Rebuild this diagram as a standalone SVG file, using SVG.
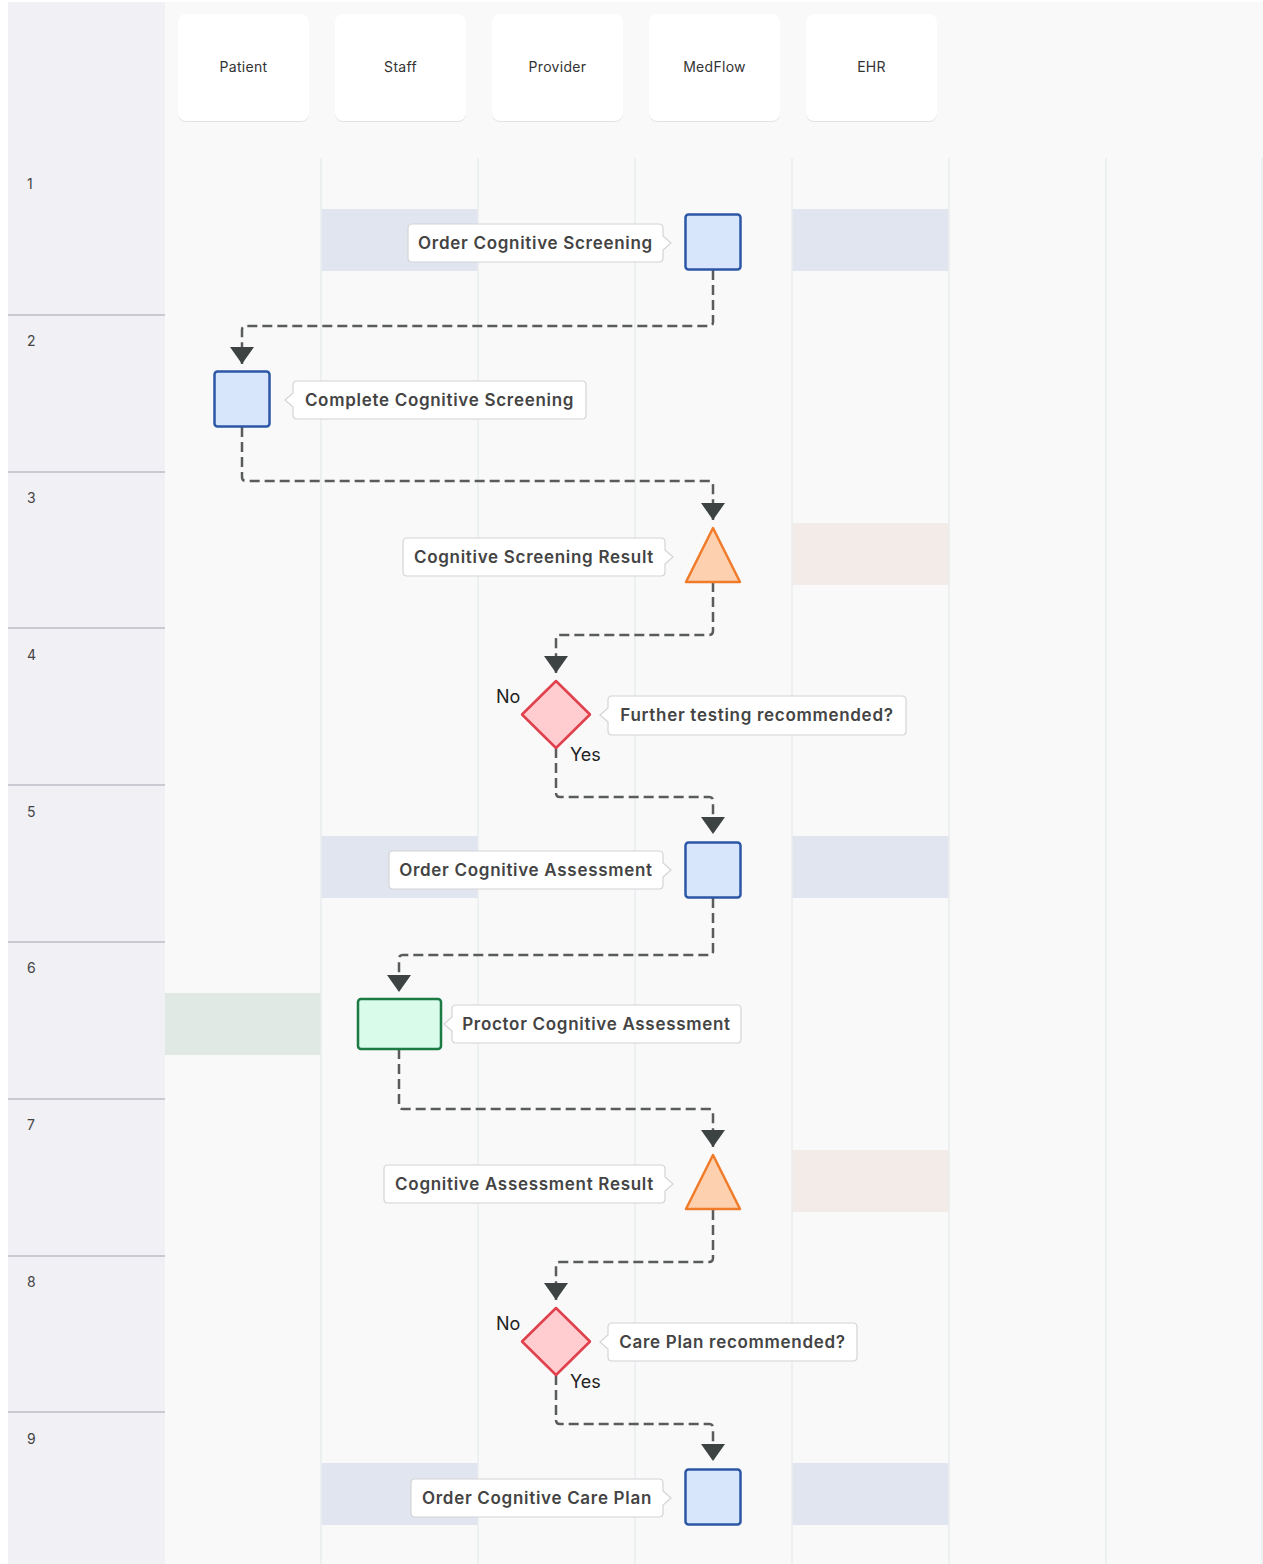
<svg xmlns="http://www.w3.org/2000/svg" width="1263" height="1564" viewBox="0 0 1263 1564">
<defs>
<style>
.hdr{fill:#fff}
.hdrs{fill:#e2e2e2}
.hdrt{font-family:Inter,"Noto Sans",sans-serif;font-size:14px;fill:#333;text-anchor:middle;letter-spacing:0.3px}
.rown{font-family:Inter,"Noto Sans",sans-serif;font-size:14px;fill:#444}
.rsep{stroke:#c9cad2;stroke-width:2}
.col{stroke:#e9ecec;stroke-width:1.5}
.bb{fill:#e1e5ef}
.bp{fill:#f3ebe7}
.bg{fill:#e0e9e4}
.lbl{fill:#fff;stroke:#d4d4d8;stroke-width:1.2}
.lt{font-family:Inter,"Noto Sans",sans-serif;font-size:17px;font-weight:600;fill:#444;text-anchor:middle;letter-spacing:0.7px}
.task{fill:#d8e6fc;stroke:#2c57a6;stroke-width:2.5}
.green{fill:#d9fbe9;stroke:#1c7a44;stroke-width:2.5}
.tri{fill:#fdd1b0;stroke:#f07b2a;stroke-width:2.5;stroke-linejoin:round}
.dia{fill:#ffccd0;stroke:#e0404b;stroke-width:2.5;stroke-linejoin:round}
.yn{font-family:Inter,"Noto Sans",sans-serif;font-size:18px;fill:#222}
.conn{fill:none;stroke:#5a5c5c;stroke-width:2.5;stroke-dasharray:10 5}
</style>
<marker id="arr" markerUnits="userSpaceOnUse" markerWidth="18" markerHeight="26" viewBox="0 0 18 26" refX="17" refY="13" orient="auto">
<path d="M0,1 L17,13 L0,25 Z" fill="#3d4343"/>
</marker>
</defs>

<g id="background">
<rect x="0" y="0" width="1263" height="1564" fill="#ffffff"/>
<rect x="8" y="2" width="1255" height="1562" fill="#f9f9f9"/>
<rect x="8" y="2" width="157" height="1562" fill="#f0f0f5"/>
</g>

<g id="bands">
<rect class="bb" x="321" y="209" width="157" height="62"/>
<rect class="bb" x="792" y="209" width="157" height="62"/>
<rect class="bp" x="792" y="523" width="157" height="62"/>
<rect class="bb" x="321" y="836" width="157" height="62"/>
<rect class="bb" x="792" y="836" width="157" height="62"/>
<rect class="bg" x="165" y="993" width="156" height="62"/>
<rect class="bp" x="792" y="1150" width="157" height="62"/>
<rect class="bb" x="321" y="1463" width="157" height="62"/>
<rect class="bb" x="792" y="1463" width="157" height="62"/>
</g>

<g id="grid">
<line class="col" x1="321" y1="158" x2="321" y2="1564"/>
<line class="col" x1="478" y1="158" x2="478" y2="1564"/>
<line class="col" x1="635" y1="158" x2="635" y2="1564"/>
<line class="col" x1="792" y1="158" x2="792" y2="1564"/>
<line class="col" x1="949" y1="158" x2="949" y2="1564"/>
<line class="col" x1="1106" y1="158" x2="1106" y2="1564"/>
<line class="col" x1="1262" y1="158" x2="1262" y2="1564"/>
<line class="rsep" x1="8" y1="315" x2="165" y2="315"/>
<line class="rsep" x1="8" y1="472" x2="165" y2="472"/>
<line class="rsep" x1="8" y1="628" x2="165" y2="628"/>
<line class="rsep" x1="8" y1="785" x2="165" y2="785"/>
<line class="rsep" x1="8" y1="942" x2="165" y2="942"/>
<line class="rsep" x1="8" y1="1099" x2="165" y2="1099"/>
<line class="rsep" x1="8" y1="1256" x2="165" y2="1256"/>
<line class="rsep" x1="8" y1="1412" x2="165" y2="1412"/>
</g>

<g id="row-labels">
<text class="rown" x="27" y="189">1</text>
<text class="rown" x="27" y="346">2</text>
<text class="rown" x="27" y="503">3</text>
<text class="rown" x="27" y="660">4</text>
<text class="rown" x="27" y="817">5</text>
<text class="rown" x="27" y="973">6</text>
<text class="rown" x="27" y="1130">7</text>
<text class="rown" x="27" y="1287">8</text>
<text class="rown" x="27" y="1444">9</text>
</g>

<g id="lane-patient">
<rect class="hdrs" x="178" y="15" width="131" height="107" rx="8"/>
<rect class="hdr" x="178" y="14" width="131" height="107" rx="8"/>
<text class="hdrt" x="243.5" y="72">Patient</text>
</g>
<g id="lane-staff">
<rect class="hdrs" x="335" y="15" width="131" height="107" rx="8"/>
<rect class="hdr" x="335" y="14" width="131" height="107" rx="8"/>
<text class="hdrt" x="400.5" y="72">Staff</text>
</g>
<g id="lane-provider">
<rect class="hdrs" x="492" y="15" width="131" height="107" rx="8"/>
<rect class="hdr" x="492" y="14" width="131" height="107" rx="8"/>
<text class="hdrt" x="557.5" y="72">Provider</text>
</g>
<g id="lane-medflow">
<rect class="hdrs" x="649" y="15" width="131" height="107" rx="8"/>
<rect class="hdr" x="649" y="14" width="131" height="107" rx="8"/>
<text class="hdrt" x="714.5" y="72">MedFlow</text>
</g>
<g id="lane-ehr">
<rect class="hdrs" x="806" y="15" width="131" height="107" rx="8"/>
<rect class="hdr" x="806" y="14" width="131" height="107" rx="8"/>
<text class="hdrt" x="871.5" y="72">EHR</text>
</g>

<g id="connectors">
<path class="conn" marker-end="url(#arr)" d="M713 270 V322 Q713 326 709 326 H246 Q242 326 242 330 V364"/>
<path class="conn" marker-end="url(#arr)" d="M242 427 V477 Q242 481 246 481 H709 Q713 481 713 485 V520"/>
<path class="conn" marker-end="url(#arr)" d="M713 582 V631 Q713 635 709 635 H560 Q556 635 556 639 V673"/>
<path class="conn" marker-end="url(#arr)" d="M556 748 V793 Q556 797 560 797 H709 Q713 797 713 801 V834"/>
<path class="conn" marker-end="url(#arr)" d="M713 898 V951 Q713 955 709 955 H403 Q399 955 399 959 V992"/>
<path class="conn" marker-end="url(#arr)" d="M399 1049 V1105 Q399 1109 403 1109 H709 Q713 1109 713 1113 V1147"/>
<path class="conn" marker-end="url(#arr)" d="M713 1210 V1258 Q713 1262 709 1262 H560 Q556 1262 556 1266 V1300"/>
<path class="conn" marker-end="url(#arr)" d="M556 1375 V1420 Q556 1424 560 1424 H709 Q713 1424 713 1428 V1461"/>
</g>

<g id="node-order-screening">
<rect class="task" x="685.5" y="214.5" width="55" height="55" rx="3"/>
<path class="lbl" d="M412 224 H659 Q663 224 663 228 V236 L671 243 L663 250 V258 Q663 262 659 262 H412 Q408 262 408 258 V228 Q408 224 412 224 Z"/>
<text class="lt" x="535.5" y="249">Order Cognitive Screening</text>
</g>

<g id="node-complete-screening">
<rect class="task" x="214.5" y="371.5" width="55" height="55" rx="3"/>
<path class="lbl" d="M297 381 H582 Q586 381 586 385 V415 Q586 419 582 419 H297 Q293 419 293 415 V407 L285 400 L293 393 V385 Q293 381 297 381 Z"/>
<text class="lt" x="439.5" y="406">Complete Cognitive Screening</text>
</g>

<g id="node-screening-result">
<polygon class="tri" points="713,528 740,582 686,582"/>
<path class="lbl" d="M407 538 H661 Q665 538 665 542 V550 L673 557 L665 564 V572 Q665 576 661 576 H407 Q403 576 403 572 V542 Q403 538 407 538 Z"/>
<text class="lt" x="534" y="563">Cognitive Screening Result</text>
</g>

<g id="node-further-testing">
<polygon class="dia" points="556,681 590,714.5 556,748 522,714.5"/>
<text class="yn" x="496" y="703">No</text>
<text class="yn" x="570" y="761">Yes</text>
<path class="lbl" d="M612 696 H902 Q906 696 906 700 V731 Q906 735 902 735 H612 Q608 735 608 731 V722 L600 715 L608 708 V700 Q608 696 612 696 Z"/>
<text class="lt" x="757" y="721">Further testing recommended?</text>
</g>

<g id="node-order-assessment">
<rect class="task" x="685.5" y="842.5" width="55" height="55" rx="3"/>
<path class="lbl" d="M393 851 H659 Q663 851 663 855 V863 L671 870 L663 877 V885 Q663 889 659 889 H393 Q389 889 389 885 V855 Q389 851 393 851 Z"/>
<text class="lt" x="526" y="876">Order Cognitive Assessment</text>
</g>

<g id="node-proctor-assessment">
<rect class="green" x="358" y="999" width="83" height="50" rx="3"/>
<path class="lbl" d="M456 1005 H737 Q741 1005 741 1009 V1039 Q741 1043 737 1043 H456 Q452 1043 452 1039 V1031 L444 1024 L452 1017 V1009 Q452 1005 456 1005 Z"/>
<text class="lt" x="596.5" y="1030">Proctor Cognitive Assessment</text>
</g>

<g id="node-assessment-result">
<polygon class="tri" points="713,1155 740,1209 686,1209"/>
<path class="lbl" d="M388 1165 H661 Q665 1165 665 1169 V1177 L673 1184 L665 1191 V1199 Q665 1203 661 1203 H388 Q384 1203 384 1199 V1169 Q384 1165 388 1165 Z"/>
<text class="lt" x="524.5" y="1190">Cognitive Assessment Result</text>
</g>

<g id="node-care-plan-decision">
<polygon class="dia" points="556,1308 590,1341.5 556,1375 522,1341.5"/>
<text class="yn" x="496" y="1330">No</text>
<text class="yn" x="570" y="1388">Yes</text>
<path class="lbl" d="M612 1323 H853 Q857 1323 857 1327 V1357 Q857 1361 853 1361 H612 Q608 1361 608 1357 V1349 L600 1342 L608 1335 V1327 Q608 1323 612 1323 Z"/>
<text class="lt" x="732.5" y="1348">Care Plan recommended?</text>
</g>

<g id="node-order-care-plan">
<rect class="task" x="685.5" y="1469.5" width="55" height="55" rx="3"/>
<path class="lbl" d="M415 1479 H659 Q663 1479 663 1483 V1491 L671 1498 L663 1505 V1513 Q663 1517 659 1517 H415 Q411 1517 411 1513 V1483 Q411 1479 415 1479 Z"/>
<text class="lt" x="537" y="1504">Order Cognitive Care Plan</text>
</g>
</svg>
